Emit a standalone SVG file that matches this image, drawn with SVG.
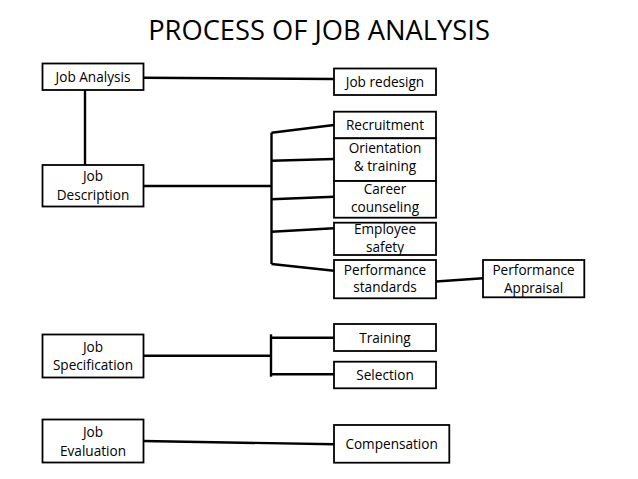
<svg xmlns="http://www.w3.org/2000/svg" width="638" height="479" viewBox="0 0 638 479">
<style>
.box{fill:#fff;stroke:#000;stroke-width:1.8}
.ln{fill:none;stroke:#000;stroke-width:2.4;stroke-linecap:butt}
text{font-family:"Open Sans","Liberation Sans",sans-serif;font-size:13.6px;fill:#000;text-anchor:middle}
.title{font-size:27.3px}
</style>
<rect width="638" height="479" fill="#fff"/>
<text class="title" x="319" y="39.5">PROCESS OF JOB ANALYSIS</text>
<g id="connectors">
<path class="ln" d="M143 77.7 L334 79"/>
<path class="ln" d="M85 90 L85 165"/>
<path class="ln" d="M143 186 L272 186"/>
<path class="ln" d="M271.5 132.7 L271.5 264"/>
<path class="ln" d="M271.5 132.7 L334 125"/>
<path class="ln" d="M271.5 160.7 L334 159"/>
<path class="ln" d="M271.5 199.3 L334 196.7"/>
<path class="ln" d="M271.5 231.7 L334 228.3"/>
<path class="ln" d="M271.5 264 L334 270.7"/>
<path class="ln" d="M436 281.5 L483 278.3"/>
<path class="ln" d="M143 355.7 L271 355.7"/>
<path class="ln" d="M271 334.3 L271 376.7"/>
<path class="ln" d="M271 337.7 L334 337.7"/>
<path class="ln" d="M271 374.3 L334 374.3"/>
<path class="ln" d="M143 441 L334 444.3"/>
</g>
<g id="job-analysis"><rect class="box" x="42.5" y="63.5" width="101" height="26.5"/><text x="93" y="81.5">Job Analysis</text></g>
<g id="job-description"><rect class="box" x="42.5" y="165" width="101" height="41.5"/><text x="93" y="181">Job</text><text x="93" y="200">Description</text></g>
<g id="job-specification"><rect class="box" x="42.5" y="334.5" width="101" height="43"/><text x="93" y="351.5">Job</text><text x="93" y="370">Specification</text></g>
<g id="job-evaluation"><rect class="box" x="42.5" y="419.5" width="101" height="43"/><text x="93" y="436.5">Job</text><text x="93" y="455.5">Evaluation</text></g>
<g id="job-redesign"><rect class="box" x="334" y="68.5" width="102" height="26.5"/><text x="385" y="87.3">Job redesign</text></g>
<g id="recruitment"><rect class="box" x="334" y="111.7" width="102" height="26.6"/><text x="385" y="130">Recruitment</text></g>
<g id="orientation"><rect class="box" x="334" y="138.3" width="102" height="42.7"/><text x="385" y="153.3">Orientation</text><text x="385" y="170.7">&amp; training</text></g>
<g id="career"><rect class="box" x="334" y="181" width="102" height="36.7"/><text x="385" y="194">Career</text><text x="385" y="211.7">counseling</text></g>
<g id="employee-safety"><rect class="box" x="334" y="222.7" width="102" height="32.3"/><text x="385" y="234.3">Employee</text><text x="385" y="251.9">safety</text></g>
<g id="performance-standards"><rect class="box" x="334" y="260" width="102" height="38.3"/><text x="385" y="275">Performance</text><text x="385" y="292.3">standards</text></g>
<g id="performance-appraisal"><rect class="box" x="483" y="260" width="101.3" height="37.3"/><text x="533.6" y="275">Performance</text><text x="533.6" y="292.7">Appraisal</text></g>
<g id="training"><rect class="box" x="334" y="324" width="102" height="27"/><text x="385" y="343.3">Training</text></g>
<g id="selection"><rect class="box" x="334" y="361.7" width="102" height="26.6"/><text x="385" y="380">Selection</text></g>
<g id="compensation"><rect class="box" x="334" y="425" width="115.3" height="37.7"/><text x="391.6" y="449.3">Compensation</text></g>
</svg>
